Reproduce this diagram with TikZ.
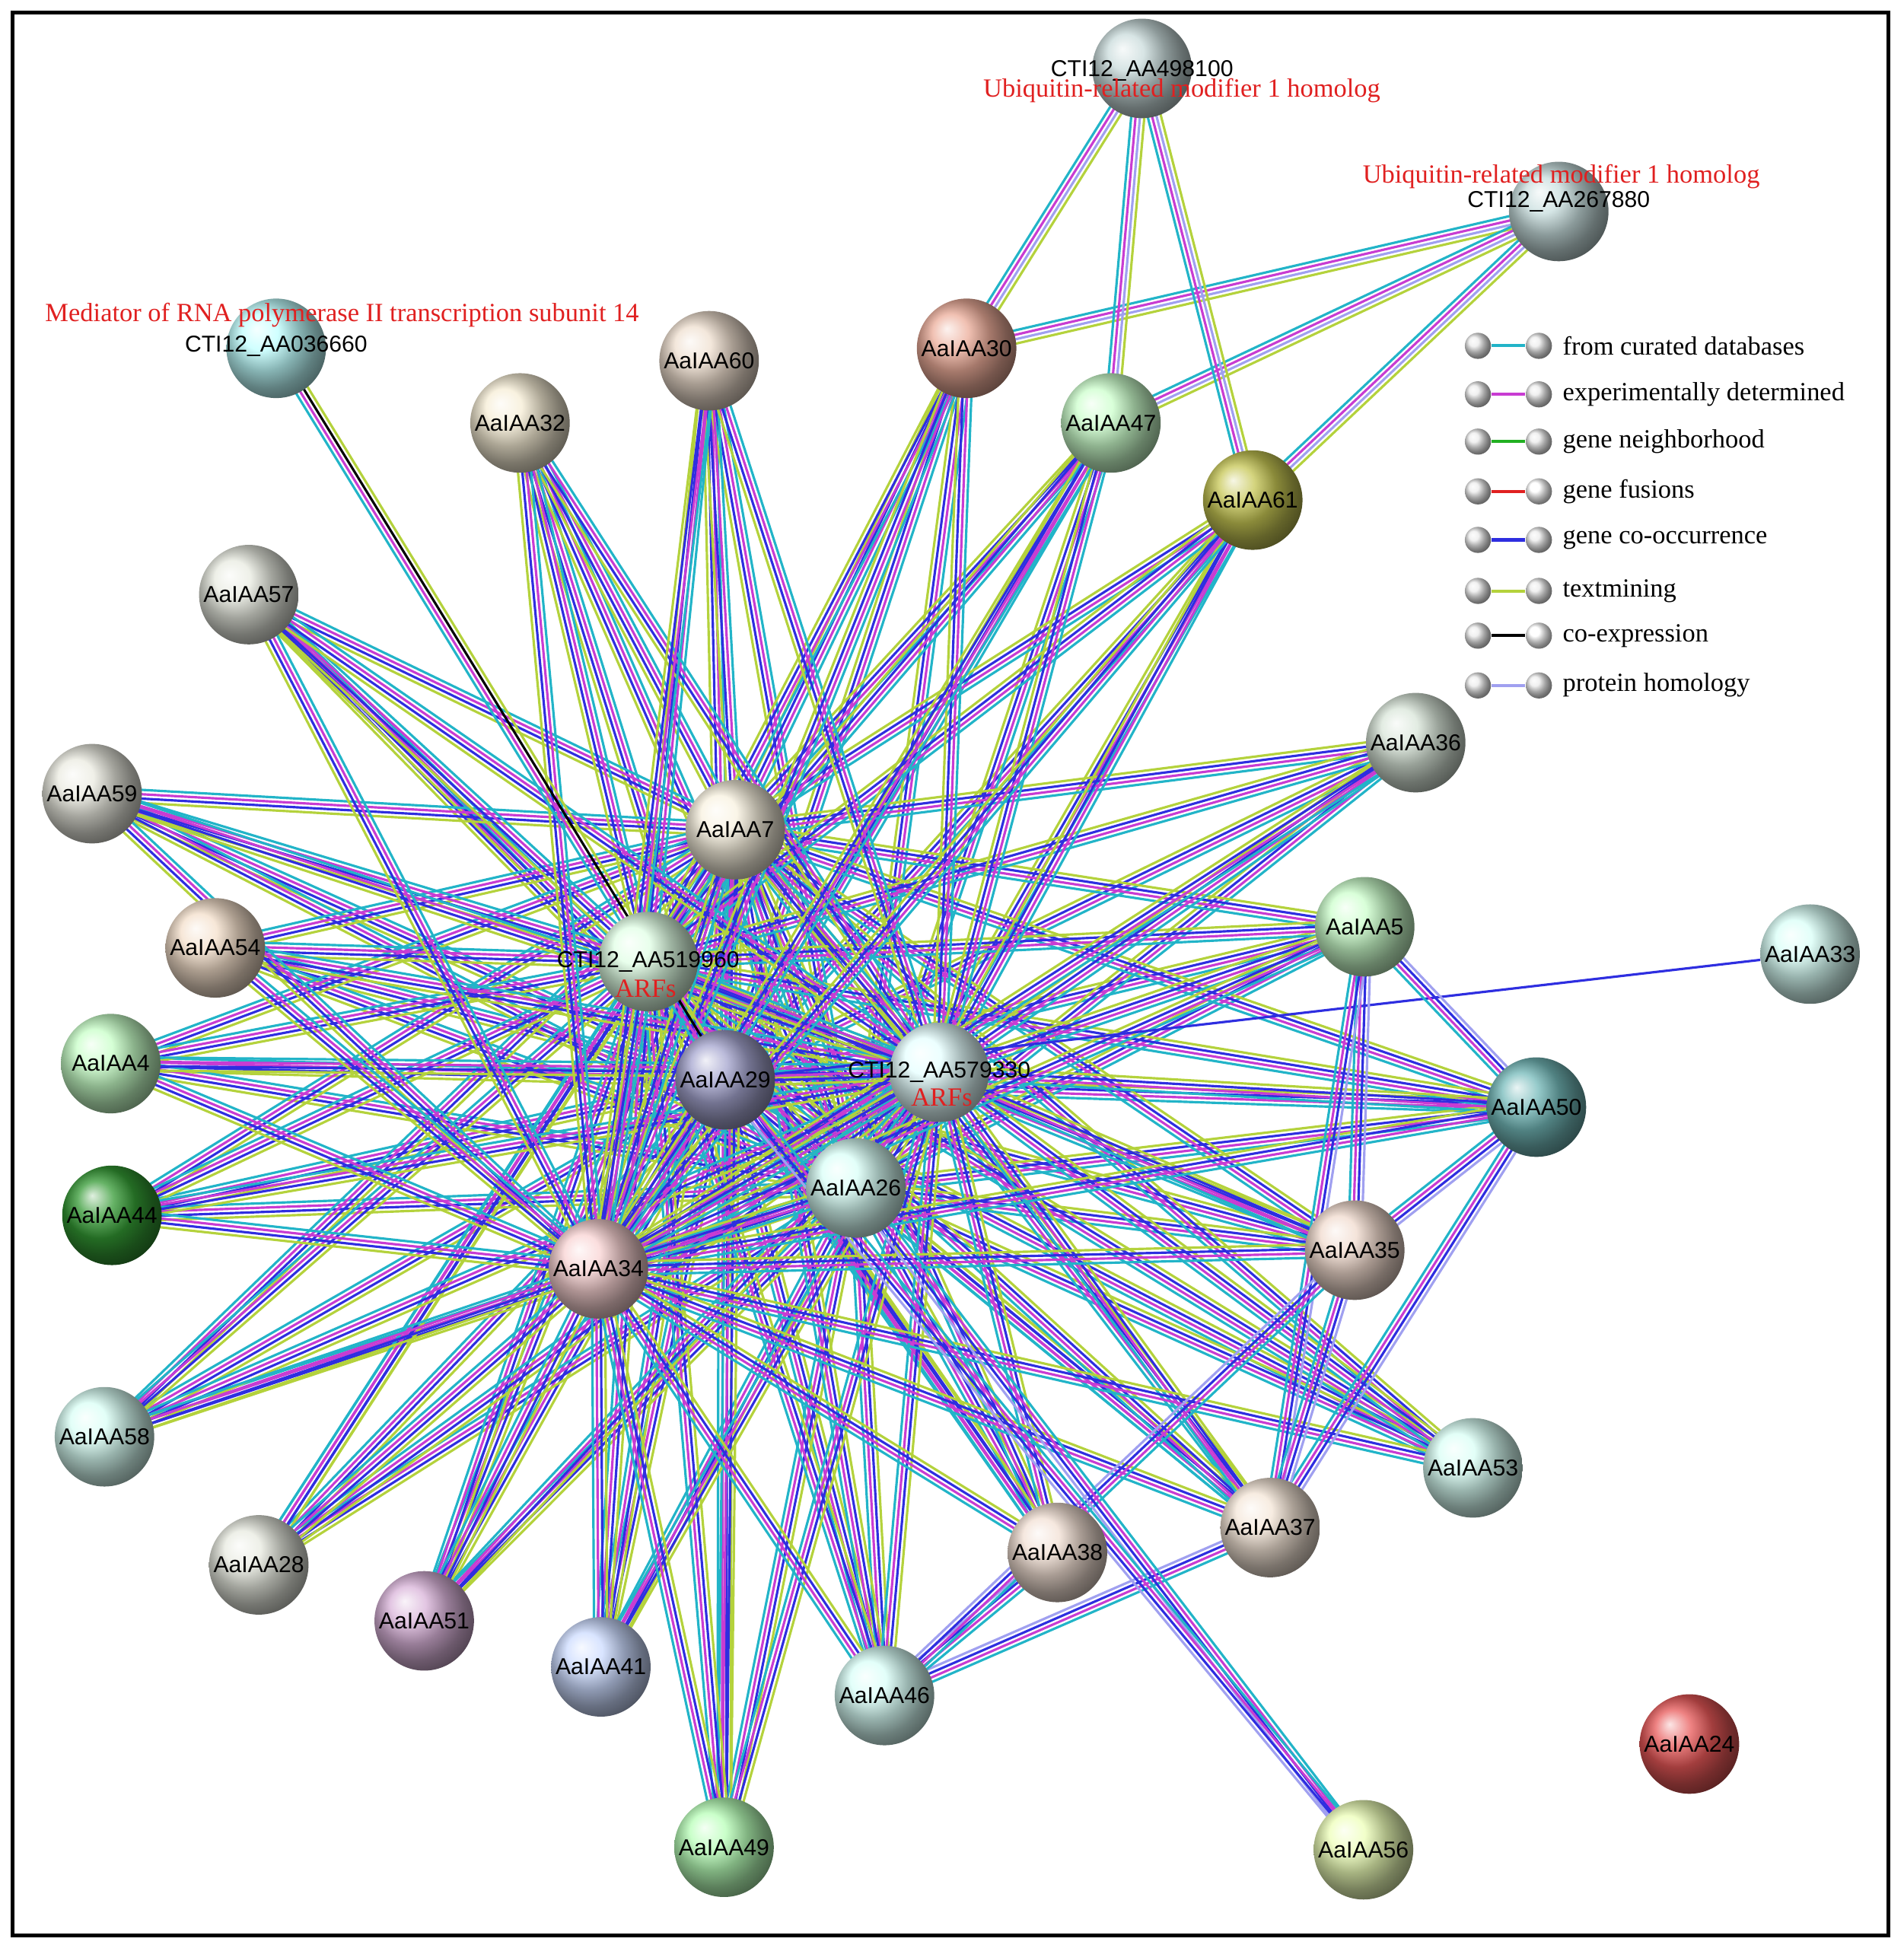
\documentclass[tikz,border=0pt]{standalone}
\usepackage{fontspec}
\setmainfont{Liberation Serif}
\newfontfamily\arialf{Liberation Sans}
\usetikzlibrary{calc,shadings}
\pgfdeclarelayer{bg}
\pgfsetlayers{bg,main}
\definecolor{cy}{HTML}{22B4C8}
\definecolor{mg}{HTML}{C83CD2}
\definecolor{bl}{HTML}{2E2EE0}
\definecolor{tm}{HTML}{B4D23C}
\definecolor{gn}{HTML}{22B022}
\definecolor{rd}{HTML}{E02020}
\definecolor{lv}{HTML}{A0A0F0}
\definecolor{red}{HTML}{E02020}
\tikzset{
  gene/.style={circle, minimum size=1.6cm, inner sep=0pt, font=\arialf\fontsize{10.5}{12}\selectfont},
  ann/.style={text=red, font=\fontsize{12}{14}\selectfont},
  leg/.style={circle, minimum size=0.42cm, inner sep=0pt, ball color=gray!15},
  legtext/.style={anchor=west, font=\fontsize{12}{14}\selectfont}
}
% bundle of coloured lines between two nodes
\newcommand\bundle[3]{%
  \foreach \col [count=\i] in {#3}{%
    \pgfmathsetmacro\off{(\i-2.5)*2}%
    \draw[draw=\col, line width=1.1pt] ($(#1)!\off pt!90:(#2)$) -- ($(#2)!\off pt!-90:(#1)$);}}
\begin{document}
\begin{tikzpicture}[x=0.02cm, y=-0.02cm]
  \useasboundingbox (0,0) rectangle (1530,1566);
  \draw[line width=1.8pt] (10,10) rectangle (1518,1556);
  % genes
  \node[gene, ball color=cyan!20!gray!35] (u498) at (918,55) {};
  \node[gene, ball color=cyan!25!gray!35] (u267) at (1253,170) {};
  \node[gene, ball color=cyan!25!white] (m036) at (222,280) {};
  \node[gene, ball color=brown!25!white] (a60) at (570,290) {AaIAA60};
  \node[gene, ball color=brown!30!pink] (a30) at (777,280) {AaIAA30};
  \node[gene, ball color=yellow!30!brown!20] (a32) at (418,340) {AaIAA32};
  \node[gene, ball color=green!20] (a47) at (893,340) {AaIAA47};
  \node[gene, ball color=olive!45] (a61) at (1007,402) {AaIAA61};
  \node[gene, ball color=lime!20!gray!20] (a57) at (200,478) {AaIAA57};
  \node[gene, ball color=green!20!gray!25] (a36) at (1138,597) {AaIAA36};
  \node[gene, ball color=yellow!20!gray!20] (a59) at (74,638) {AaIAA59};
  \node[gene, ball color=yellow!30!brown!15] (a7) at (591,667) {AaIAA7};
  \node[gene, ball color=green!20] (a5) at (1097,745) {AaIAA5};
  \node[gene, ball color=green!20!cyan!15] (a33) at (1455,767) {AaIAA33};
  \node[gene, ball color=orange!30!brown!25] (a54) at (173,762) {AaIAA54};
  \node[gene, ball color=cyan!15!green!12] (c519) at (521,773) {};
  \node[gene, ball color=green!22] (a4) at (89,855) {AaIAA4};
  \node[gene, ball color=blue!30!gray!55] (a29) at (583,868) {AaIAA29};
  \node[gene, ball color=cyan!10!white] (c579) at (755,862) {};
  \node[gene, ball color=teal!55] (a50) at (1235,890) {AaIAA50};
  \node[gene, ball color=green!20!cyan!15] (a26) at (688,955) {AaIAA26};
  \node[gene, ball color=green!50!black!80] (a44) at (90,977) {AaIAA44};
  \node[gene, ball color=red!20!brown!25] (a35) at (1089,1005) {AaIAA35};
  \node[gene, ball color=red!20] (a34) at (481,1020) {AaIAA34};
  \node[gene, ball color=green!25!cyan!15] (a58) at (84,1155) {AaIAA58};
  \node[gene, ball color=green!25!cyan!15] (a53) at (1184,1180) {AaIAA53};
  \node[gene, ball color=orange!15!brown!20] (a37) at (1021,1228) {AaIAA37};
  \node[gene, ball color=red!15!brown!22] (a38) at (850,1248) {AaIAA38};
  \node[gene, ball color=lime!20!gray!20] (a28) at (208,1258) {AaIAA28};
  \node[gene, ball color=violet!30] (a51) at (341,1303) {AaIAA51};
  \node[gene, ball color=cyan!30!blue!20] (a41) at (483,1340) {AaIAA41};
  \node[gene, ball color=green!18!cyan!15] (a46) at (711,1363) {AaIAA46};
  \node[gene, ball color=red!75] (a24) at (1358,1402) {AaIAA24};
  \node[gene, ball color=green!28] (a49) at (582,1485) {AaIAA49};
  \node[gene, ball color=lime!28] (a56) at (1096,1487) {AaIAA56};
  % labels of the CTI12 proteins
  \node[font=\arialf\fontsize{10.5}{12}\selectfont] at (918,57) {CTI12\_AA498100};
  \node[ann] at (950,73) {Ubiquitin-related modifier 1 homolog};
  \node[ann] at (1255,142) {Ubiquitin-related modifier 1 homolog};
  \node[font=\arialf\fontsize{10.5}{12}\selectfont] at (1253,162) {CTI12\_AA267880};
  \node[ann] at (275,253) {Mediator of RNA polymerase II transcription subunit 14};
  \node[font=\arialf\fontsize{10.5}{12}\selectfont] at (222,278) {CTI12\_AA036660};
  \node[font=\arialf\fontsize{10.5}{12}\selectfont] at (521,773) {CTI12\_AA519960};
  \node[ann] at (519,795) {ARFs};
  \node[font=\arialf\fontsize{10.5}{12}\selectfont] at (755,862) {CTI12\_AA579330};
  \node[ann] at (757,882) {ARFs};
  % interactions
  \begin{pgfonlayer}{bg}
    \foreach \h in {a29,a26,a7,c519,c579,a34}{
      \foreach \t in {a60,a30,a32,a47,a61,a57,a36,a59,a5,a54,a4,a50,a44,a35,a58,a53,a37,a38,a28,a51,a41,a46,a49,a29,a26,a7,c519,c579,a34}{
        \bundle{\h}{\t}{cy,mg,bl,tm}}}
    \bundle{m036}{a29}{cy,mg,black,tm}
    \foreach \t in {a30,a47,a61}{
      \bundle{u498}{\t}{cy,mg,lv,tm}
      \bundle{u267}{\t}{cy,mg,lv,tm}}
    \draw[bl, line width=1.1pt] (a33) -- (a29);
    \foreach \a/\b in {a5/a50,a5/a35,a5/a37,a50/a35,a50/a37,a35/a37,a46/a37,a46/a38,a46/a35,a56/a26,a56/a29}{
      \bundle{\a}{\b}{cy,mg,bl,lv}}
  \end{pgfonlayer}
  % legend
  \foreach \y/\cl/\txt/\w in {278/cy/from curated databases/gray!15, 317/mg/experimentally determined/gray!15,
      355/gn/gene neighborhood/gray!15, 395/rd/gene fusions/white, 434/bl/gene co-occurrence/gray!15,
      475/tm/textmining/gray!15, 511/black/co-expression/white, 551/lv/protein homology/gray!15}{
    \node[leg] (l\y) at (1188,\y) {};
    \node[leg, ball color=\w] (r\y) at (1237,\y) {};
    \draw[draw=\cl, line width=1.4pt] (l\y) -- (r\y);
    \node[legtext] at (1250,\y) {\txt};}
\end{tikzpicture}
\end{document}
